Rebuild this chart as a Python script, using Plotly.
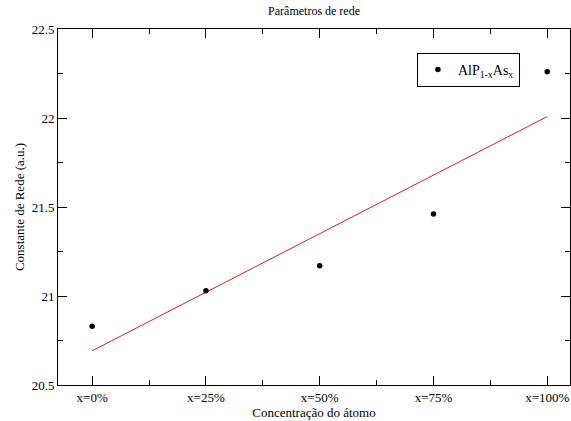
import numpy as np
import plotly.graph_objects as go

categories = ["x=0%", "x=25%", "x=50%", "x=75%", "x=100%"]
x_index = [0, 1, 2, 3, 4]
lattice = [20.83, 21.03, 21.17, 21.46, 22.26]
y_ticks = [20.5, 21, 21.5, 22, 22.5]
y_ticklabels = ["20.5", "21", "21.5", "22", "22.5"]

slope, intercept = np.polyfit(x_index, lattice, 1)
fit_x = [x_index[0], x_index[-1]]
fit_y = [intercept + slope * v for v in fit_x]

font = "Liberation Serif"
xrange_ = [-0.3, 4.2]
yrange_ = [20.5, 22.5]

fig = go.Figure()
fig.add_trace(go.Scatter(x=fit_x, y=fit_y, mode="lines",
                         line=dict(color="#d42020", width=1), showlegend=False,
                         hoverinfo="skip"))
fig.add_trace(go.Scatter(x=x_index, y=lattice, mode="markers",
                         marker=dict(color="black", size=5.5),
                         name="AlP<sub>1-x</sub>As<sub>x</sub>"))
# invisible trace carrying the mirrored (top/right) tick axes
fig.add_trace(go.Scatter(x=[x_index[0]], y=[lattice[0]], xaxis="x2", yaxis="y2",
                         mode="markers", marker=dict(opacity=0), showlegend=False,
                         hoverinfo="skip"))

axis_common = dict(showgrid=False, zeroline=False, showline=True, linecolor="black",
                   linewidth=1, ticks="inside", tickcolor="black",
                   ticklen=9, tickwidth=1,
                   tickfont=dict(family=font, size=13, color="black"))

xminor = dict(ticks="inside", ticklen=5, tickcolor="black", dtick=0.5, tick0=0.5)
yminor = dict(ticks="inside", ticklen=5, tickcolor="black", dtick=0.25, tick0=20.25)

fig.update_layout(
    width=571, height=421,
    margin=dict(l=58, r=1, t=29, b=36),
    paper_bgcolor="white", plot_bgcolor="white",
    font=dict(family=font, color="black"),
    title=dict(text="Parâmetros de rede", x=0.55, xanchor="center", y=0.975,
               yanchor="middle", font=dict(family=font, size=12, color="black")),
    xaxis=dict(range=xrange_, tickvals=x_index, ticktext=categories,
               title=dict(text="Concentração do átomo", standoff=2,
                          font=dict(family=font, size=13, color="black")),
               minor=xminor, **axis_common),
    yaxis=dict(range=yrange_, tickvals=y_ticks, ticktext=y_ticklabels,
               title=dict(text="Constante de Rede (a.u.)", standoff=4,
                          font=dict(family=font, size=13, color="black")),
               minor=yminor, **axis_common),
    xaxis2=dict(range=xrange_, tickvals=x_index, overlaying="x", side="top",
                showticklabels=False, minor=xminor, **axis_common),
    yaxis2=dict(range=yrange_, tickvals=y_ticks, overlaying="y", side="right",
                showticklabels=False, minor=yminor, **axis_common),
    legend=dict(x=0.701, y=0.933, xanchor="left", yanchor="top",
                bgcolor="white", bordercolor="black", borderwidth=1,
                font=dict(family=font, size=14, color="black"),
                itemwidth=30),
)

fig.write_html("out.html")
